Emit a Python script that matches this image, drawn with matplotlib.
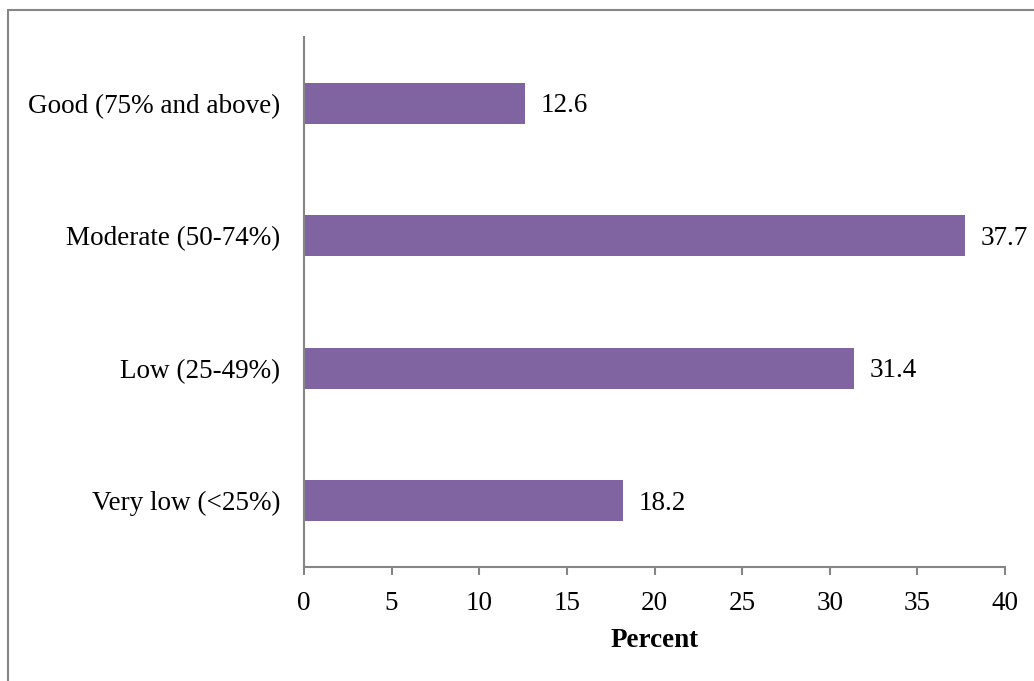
import matplotlib.pyplot as plt
from matplotlib.patches import Rectangle

categories = ["Very low (<25%)", "Low (25-49%)", "Moderate (50-74%)", "Good (75% and above)"]
values = [18.2, 31.4, 37.7, 12.6]
xticks = [0, 5, 10, 15, 20, 25, 30, 35, 40]

plt.rcParams['font.family'] = ['Liberation Serif', 'DejaVu Serif']
gray = "#868686"
fs = 19.5

fig = plt.figure(figsize=(10.34, 6.81), dpi=100)
fig.patches.append(Rectangle((8 / 1034, -0.1), 1.2, (681 - 10) / 681 + 0.1,
                             transform=fig.transFigure, fill=False,
                             edgecolor=gray, linewidth=1.5))
ax = fig.add_axes([304 / 1034, 114 / 681, 701 / 1034, 530 / 681])

ypos = range(len(categories))
ax.barh(ypos, values, height=0.31, color="#8064A2")
for y, v in zip(ypos, values):
    ax.text(v + 0.9, y - 0.02, f"{v:.1f}", va="center", ha="left", fontsize=fs)

ax.set_xlim(0, 40)
ax.set_ylim(-0.5, 3.5)
ax.set_xticks(xticks)
ax.set_yticks(list(ypos))
ax.set_yticklabels(categories)
ax.tick_params(axis="x", length=6, color=gray, width=1.5, labelsize=fs, pad=11)
ax.tick_params(axis="y", length=0, labelsize=fs, pad=17)
for s in ["top", "right"]:
    ax.spines[s].set_visible(False)
for s in ["left", "bottom"]:
    ax.spines[s].set_color(gray)
    ax.spines[s].set_linewidth(1.5)
ax.set_xlabel("Percent", fontsize=fs, fontweight="bold", labelpad=9)

fig.savefig("out.png", dpi=100)
